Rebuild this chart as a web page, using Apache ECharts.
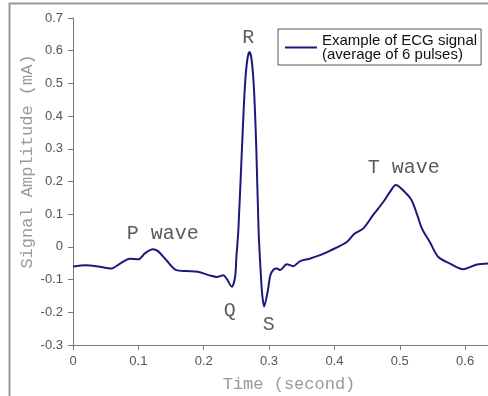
<!DOCTYPE html>
<html>
<head>
<meta charset="utf-8">
<script src="https://cdn.jsdelivr.net/npm/echarts@6/dist/echarts.min.js"></script>
<style>
  html, body { margin: 0; padding: 0; background: #fff; }
  #chart { width: 488px; height: 396px; }
</style>
</head>
<body>
<div id="chart"></div>
<script>
// time (s) and amplitude (mA)
const timeSec = [
  0.000, 0.020, 0.041, 0.059, 0.072, 0.087, 0.100, 0.110, 0.122, 0.130,
  0.143, 0.158, 0.174, 0.191, 0.209, 0.220, 0.230, 0.235, 0.243, 0.248,
  0.250, 0.253, 0.2585, 0.263, 0.2665, 0.270, 0.2735, 0.277, 0.2805, 0.284,
  0.287, 0.2895, 0.2925, 0.298, 0.302, 0.307, 0.312, 0.317, 0.327, 0.337,
  0.347, 0.362, 0.378, 0.393, 0.419, 0.431, 0.444, 0.459, 0.475, 0.485,
  0.494, 0.505, 0.518, 0.526, 0.534, 0.546, 0.559, 0.577, 0.597, 0.618,
  0.635
];
const amplitude = [
  -0.060, -0.056, -0.061, -0.066, -0.051, -0.036, -0.038, -0.020, -0.007, -0.013,
  -0.041, -0.071, -0.074, -0.076, -0.087, -0.092, -0.087, -0.097, -0.122, -0.092,
  -0.031, 0.051, 0.300, 0.490, 0.570, 0.596, 0.570, 0.480, 0.300, 0.050,
  -0.070, -0.145, -0.182, -0.135, -0.087, -0.069, -0.066, -0.071, -0.053, -0.059,
  -0.044, -0.036, -0.025, -0.012, 0.015, 0.041, 0.056, 0.097, 0.138, 0.168,
  0.189, 0.173, 0.143, 0.102, 0.056, 0.015, -0.031, -0.051, -0.068, -0.054,
  -0.051
];
const xTicks = [0, 0.1, 0.2, 0.3, 0.4, 0.5, 0.6];
// annotation labels, positioned in data space
const noteText = ["R", "Q", "S", "P wave", "T wave"];
const noteTime = [0.268, 0.240, 0.2995, 0.1375, 0.506];
const noteAmp = [0.641, -0.194, -0.237, 0.039, 0.241];

const seriesName = "Example of ECG signal\n(average of 6 pulses)";

const chart = echarts.init(document.getElementById("chart"));

chart.setOption({
  animation: false,
  grid: {
    left: 73,
    right: 0,
    top: 18,
    bottom: 51,
    outerBoundsMode: "none",
  },
  legend: {
    data: [seriesName],
    left: 278,
    top: 29,
    padding: [4, 4, 3, 7],
    borderColor: "#555",
    borderWidth: 1,
    icon: "rect",
    itemWidth: 32,
    itemHeight: 2,
    textStyle: {
      fontFamily: "Liberation Sans",
      fontSize: 15,
      lineHeight: 14,
      color: "#111",
    },
  },
  xAxis: {
    type: "value",
    min: 0,
    max: 0.635,
    interval: 0.1,
    name: "Time (second)",
    nameLocation: "middle",
    nameGap: 31,
    nameTextStyle: {
      fontFamily: "Liberation Mono",
      fontSize: 17,
      color: "#999",
      padding: [0, 0, 0, 17],
    },
    axisLine: { onZero: false, lineStyle: { color: "#777", width: 1 } },
    axisTick: { length: 5, lineStyle: { color: "#777" }, customValues: xTicks },
    axisLabel: {
      customValues: xTicks,
      margin: 10,
      fontFamily: "Liberation Sans",
      fontSize: 13,
      color: "#555",
    },
    splitLine: { show: false },
  },
  yAxis: {
    type: "value",
    min: -0.3,
    max: 0.7,
    interval: 0.1,
    name: "Signal Amplitude (mA)",
    nameLocation: "middle",
    nameGap: 37,
    nameMoveOverlap: false,
    nameTextStyle: {
      fontFamily: "Liberation Mono",
      fontSize: 17,
      color: "#999",
      padding: [0, 0, 0, 40],
    },
    axisLine: { show: true, onZero: false, lineStyle: { color: "#777", width: 1 } },
    axisTick: { show: true, length: 5, lineStyle: { color: "#777" } },
    axisLabel: {
      margin: 10,
      fontFamily: "Liberation Sans",
      fontSize: 13,
      color: "#555",
    },
    splitLine: { show: false },
  },
  series: [
    {
      name: seriesName,
      type: "line",
      data: timeSec.map((t, i) => [t, amplitude[i]]),
      symbol: "none",
      smooth: 0.3,
      lineStyle: { color: "#1a1a7c", width: 2 },
      itemStyle: { color: "#1a1a7c" },
    },
    {
      name: "notes",
      type: "scatter",
      silent: true,
      symbolSize: 0,
      data: noteText.map((s, i) => [noteTime[i], noteAmp[i], s]),
      label: {
        show: true,
        position: "inside",
        formatter: (p) => p.value[2],
        fontFamily: "Liberation Mono",
        fontSize: 20,
        color: "#333",
      },
    },
  ],
  graphic: [
    {
      type: "rect",
      silent: true,
      shape: { x: 9.5, y: 3.5, width: 520, height: 430 },
      style: { fill: null, stroke: "#999", lineWidth: 2 },
    },
  ],
});
</script>
</body>
</html>
